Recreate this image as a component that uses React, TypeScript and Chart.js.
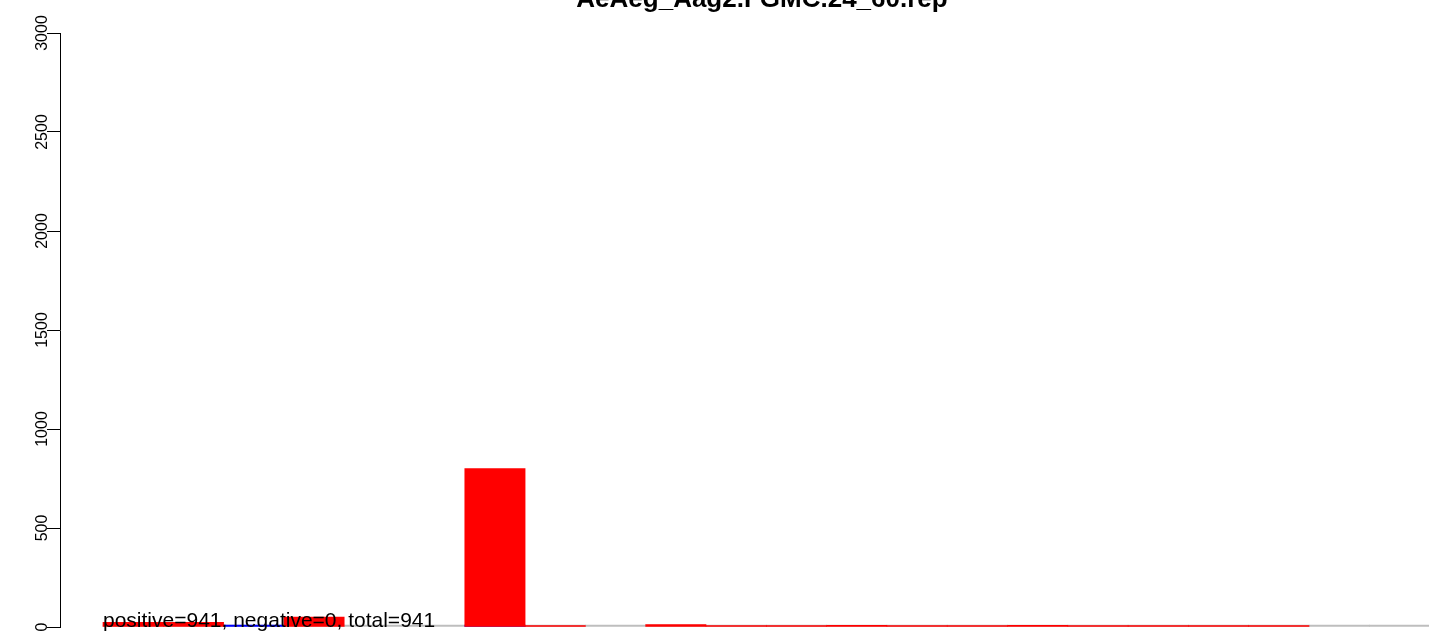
import React, { useEffect, useRef } from "react";
import { Chart, registerables } from "chart.js";

Chart.register(...registerables);

const TITLE = "AeAeg_Aag2.FGMC.24_60.rep";
const ANNOTATION = "positive=941, negative=0, total=941";

// category slots (one bar position each)
const categories = [1, 2, 3, 4, 5, 6, 7, 8, 9, 10, 11, 12, 13, 14, 15, 16, 17, 18, 19, 20, 21, 22];
// red: positive counts
const positiveValues = [24, 24, null, 50, null, null, 800, 1, null, 12, 1, 1, 8, 1, 1, 8, 1, 7, 1, 1, null, null];
// blue: negative counts
const negativeValues = [null, null, 0, null, null, null, 0, null, null, null, null, null, null, null, null, null, null, null, null, null, null, null];
// gray: empty slots
const emptyValues = [0, 0, 0, 0, 0, 0, 0, 0, 0, 0, 0, 0, 0, 0, 0, 0, 0, 0, 0, 0, 0, 0];
const yTicks = [0, 500, 1000, 1500, 2000, 2500, 3000];

const FONT = "'Liberation Sans', Arial, Helvetica, sans-serif";

function toPoints(values: (number | null)[]) {
  const pts: { x: number; y: number }[] = [];
  values.forEach((v, i) => {
    if (v !== null) pts.push({ x: categories[i], y: v });
  });
  return pts;
}

const overlayPlugin = {
  id: "overlay",
  afterDraw(chart: any) {
    const ctx = chart.ctx;
    const y = chart.scales.y;
    const x = chart.scales.x;
    ctx.save();
    ctx.fillStyle = "#000";
    // y tick labels, rotated like R's las=0
    ctx.font = `16px ${FONT}`;
    ctx.textAlign = "center";
    ctx.textBaseline = "alphabetic";
    y.ticks.forEach((t: any) => {
      const py = y.getPixelForValue(t.value);
      ctx.save();
      ctx.translate(chart.chartArea.left - 13.5, py);
      ctx.rotate(-Math.PI / 2);
      ctx.fillText(String(t.value), 0, 0);
      ctx.restore();
    });
    // title
    ctx.font = `bold 26px ${FONT}`;
    ctx.textAlign = "center";
    ctx.fillText(TITLE, 762, 7);
    // annotation
    ctx.font = `21px ${FONT}`;
    ctx.textAlign = "left";
    ctx.fillText(ANNOTATION, x.getPixelForValue(categories[0] - 0.5), y.getPixelForValue(0));
    ctx.restore();
  },
};

export default function App() {
  const ref = useRef<HTMLCanvasElement | null>(null);
  useEffect(() => {
    document.body.style.margin = "0";
    const canvas = ref.current!;
    const common = {
      borderWidth: 0,
      grouped: false,
      categoryPercentage: 1,
      barPercentage: 1,
      clip: false,
    };
    const chart = new Chart(canvas, {
      type: "bar",
      data: {
        datasets: [
          {
            ...common,
            label: "positive",
            data: toPoints(positiveValues),
            backgroundColor: "#FF0000",
            minBarLength: 1.5,
            order: 0,
          } as any,
          {
            ...common,
            label: "negative",
            data: toPoints(negativeValues),
            backgroundColor: "#0000FF",
            minBarLength: 2,
            order: 1,
          } as any,
          {
            ...common,
            label: "empty",
            data: toPoints(emptyValues),
            backgroundColor: "#BEBEBE",
            minBarLength: 2,
            order: 2,
          } as any,
        ],
      },
      options: {
        responsive: false,
        animation: false,
        devicePixelRatio: 1,
        layout: { padding: { left: 47, top: 33, bottom: 7, right: 0 } },
        plugins: {
          legend: { display: false },
          tooltip: { enabled: false },
          title: { display: false },
        },
        scales: {
          x: {
            type: "linear",
            display: false,
            offset: false,
            min: -0.213,
            max: 22.49,
          },
          y: {
            min: 0,
            max: 3000,
            afterBuildTicks: (s: any) => {
              s.ticks = yTicks.map((v) => ({ value: v }));
            },
            ticks: { display: false },
            grid: {
              drawOnChartArea: false,
              drawTicks: true,
              tickLength: 13,
              color: "#000",
              lineWidth: 1,
            },
            border: { display: true, color: "#000", width: 1 },
          },
        },
      } as any,
      plugins: [overlayPlugin],
    });
    return () => chart.destroy();
  }, []);
  return (
    <div style={{ width: 1429, height: 634 }}>
      <canvas ref={ref} width={1429} height={634} style={{ display: "block" }} />
    </div>
  );
}
